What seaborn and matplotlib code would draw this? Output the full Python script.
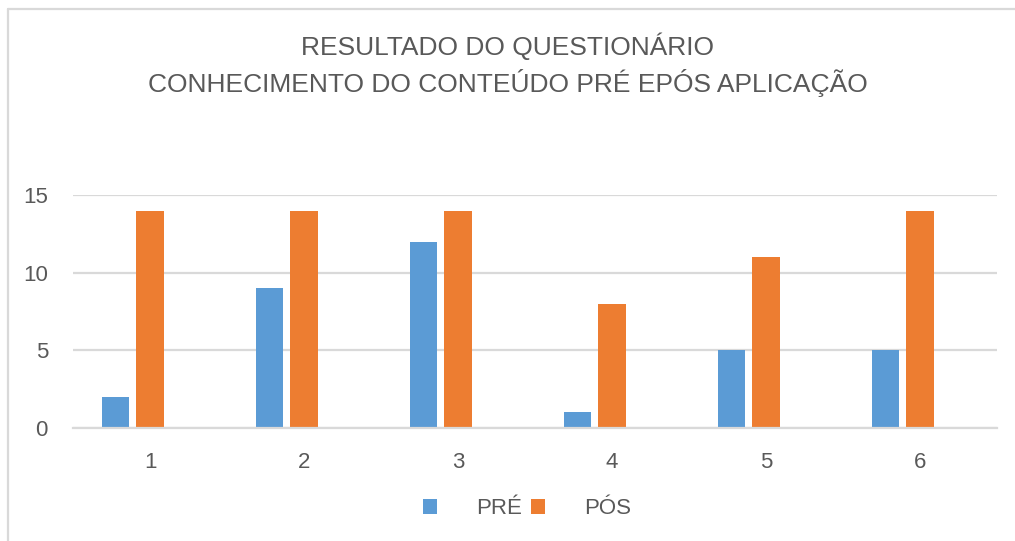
import matplotlib
matplotlib.use("Agg")
import matplotlib.pyplot as plt
from matplotlib.patches import Patch
from matplotlib.lines import Line2D
import pandas as pd
import seaborn as sns

# Questionnaire scores per question, before and after
questions = ["1", "2", "3", "4", "5", "6"]
pre_values = [2, 9, 12, 1, 5, 5]
post_values = [14, 14, 14, 8, 11, 14]
series_names = ["PRÉ", "PÓS"]
y_ticks = [0, 5, 10, 15]
title_text = "RESULTADO DO QUESTIONÁRIO\nCONHECIMENTO DO CONTEÚDO PRÉ EPÓS APLICAÇÃO"

BLUE = "#5B9BD5"
ORANGE = "#ED7D31"
TEXT = "#595959"
GRID = "#D9D9D9"

df = pd.DataFrame({
    "questao": questions * 2,
    "serie": [series_names[0]] * len(questions) + [series_names[1]] * len(questions),
    "valor": pre_values + post_values,
})

sns.set_theme(style="white")
plt.rcParams["font.family"] = ["Liberation Sans", "DejaVu Sans"]

W, H = 1015, 541
fig = plt.figure(figsize=(W / 100, H / 100), dpi=100)
ax = fig.add_axes([73 / W, 1 - 428 / H, (997 - 73) / W, (428 - 195) / H])

# a third, empty slot in each group keeps the spreadsheet-style offset
sns.barplot(
    data=df, x="questao", y="valor", hue="serie",
    hue_order=series_names + [" "],
    palette={series_names[0]: BLUE, series_names[1]: ORANGE, " ": "white"},
    order=questions, width=0.67, gap=0.2, saturation=1,
    errorbar=None, legend=False, linewidth=0, ax=ax,
)

ax.set_ylim(0, 15)
ax.set_yticks(y_ticks)
ax.set_xlim(-0.5, len(questions) - 0.5)
ax.yaxis.grid(True, color=GRID, linewidth=1.6)
ax.set_axisbelow(True)
for side in ["left", "right", "top"]:
    ax.spines[side].set_visible(False)
ax.spines["bottom"].set_color(GRID)
ax.spines["bottom"].set_linewidth(1.6)
ax.tick_params(axis="both", length=0, colors=TEXT, labelsize=16)
ax.tick_params(axis="y", pad=18)
ax.tick_params(axis="x", pad=17)
ax.set_xlabel("")
ax.set_ylabel("")

fig.text(0.5, 1 - 65 / H, title_text, ha="center", va="center",
         fontsize=19, color=TEXT, linespacing=1.4)

handles = [Patch(facecolor=BLUE, edgecolor="none"),
           Patch(facecolor=ORANGE, edgecolor="none")]
fig.legend(handles, series_names, loc="center", bbox_to_anchor=(527 / W, 1 - 509 / H),
           ncol=2, frameon=False, fontsize=16, labelcolor=TEXT,
           handlelength=0.63, handleheight=0.63, handletextpad=1.75,
           columnspacing=0.4)

# light frame along the top and left edges
fig.add_artist(Line2D([8 / W, 1], [1 - 9 / H, 1 - 9 / H], color=GRID, linewidth=1.6))
fig.add_artist(Line2D([8 / W, 8 / W], [0, 1 - 9 / H], color=GRID, linewidth=1.6))

fig.savefig("out.png", dpi=100, facecolor="white")
